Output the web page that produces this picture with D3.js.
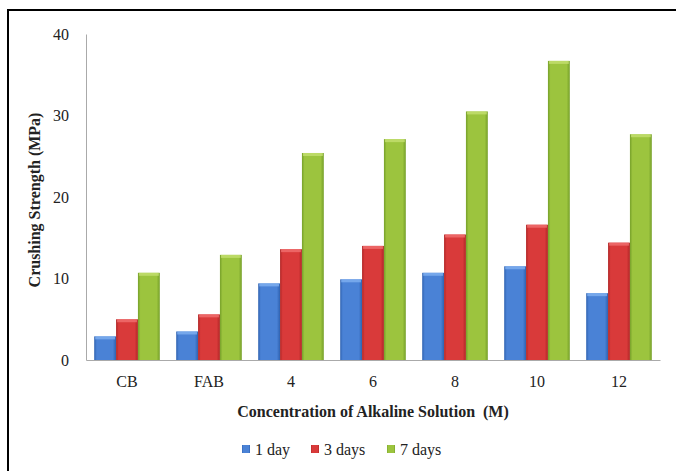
<!DOCTYPE html>
<html><head><meta charset="utf-8">
<script src="https://cdn.jsdelivr.net/npm/d3@7"></script>
<style>body{margin:0;background:#fff}svg{display:block}svg text{font-family:"Liberation Serif","DejaVu Serif",serif !important;fill:#222}</style>
</head><body><svg id="c" width="676" height="471"></svg>
<script>
const categories = ["CB","FAB","4","6","8","10","12"];
const seriesNames = ["1 day","3 days","7 days"];
const day1 = [2.9,3.5,9.4,9.9,10.7,11.5,8.2];
const day3 = [5.0,5.6,13.6,14.0,15.4,16.6,14.4];
const day7 = [10.7,12.9,25.4,27.1,30.5,36.7,27.7];
const yTicks = [0,10,20,30,40];
const colors = ["#4a82d6","#d93a3a","#9cc43e"];
const dark = ["#2f62b0","#b02626","#76a02a"];
const light = ["#7fb0f0","#f07070","#c4e070"];
const FONT = "Liberation Serif, DejaVu Serif, serif";

const svg = d3.select("#c");
const W=676,H=471;
const m={left:86,right:16,top:34,bottom:111};
const x0=d3.scaleBand().domain(categories).range([m.left,W-m.right]).paddingInner(0.2).paddingOuter(0.1);
const x1=d3.scaleBand().domain(seriesNames).range([0,x0.bandwidth()]);
const y=d3.scaleLinear().domain([0,40]).range([H-m.bottom,m.top]);

svg.append("rect").attr("x",8).attr("y",10).attr("width",W+10).attr("height",H+10).attr("fill","none").attr("stroke","#000").attr("stroke-width",2);

const defs=svg.append("defs");
colors.forEach((c,i)=>{
  const g=defs.append("linearGradient").attr("id","g"+i).attr("x1","0").attr("x2","1").attr("y1","0").attr("y2","0");
  g.append("stop").attr("offset","0").attr("stop-color",dark[i]);
  g.append("stop").attr("offset","0.12").attr("stop-color",c);
  g.append("stop").attr("offset","0.85").attr("stop-color",c);
  g.append("stop").attr("offset","1").attr("stop-color",dark[i]);
});

const data=[day1,day3,day7];
const groups=svg.append("g").selectAll("g").data(categories).join("g").attr("transform",d=>`translate(${x0(d)},0)`);
groups.each(function(cat,ci){
  const g=d3.select(this);
  seriesNames.forEach((s,si)=>{
    const v=data[si][ci];
    g.append("rect").attr("x",x1(s)).attr("y",y(v)).attr("width",x1.bandwidth()).attr("height",y(0)-y(v)).attr("fill",`url(#g${si})`);
    g.append("rect").attr("x",x1(s)+1).attr("y",y(v)).attr("width",x1.bandwidth()-2).attr("height",3).attr("fill",light[si]).attr("opacity",0.8);
  });
});

const yAxis=svg.append("g").attr("transform",`translate(${m.left},0)`).call(d3.axisLeft(y).tickValues(yTicks).tickSize(0).tickPadding(17));
yAxis.attr("font-family",FONT);
yAxis.select(".domain").attr("stroke","#aaa");
yAxis.selectAll("text").attr("font-size",16).attr("fill","#222");
const xAxis=svg.append("g").attr("transform",`translate(0,${y(0)})`).call(d3.axisBottom(x0).tickSize(0).tickPadding(16));
xAxis.attr("font-family",FONT);
xAxis.select(".domain").attr("stroke","#aaa");
xAxis.selectAll("text").attr("font-size",16).attr("fill","#222");

svg.append("text").attr("transform","translate(40,200) rotate(-90)").attr("text-anchor","middle").attr("font-weight","bold").attr("font-size",16).attr("font-family",FONT).text("Crushing Strength (MPa)");
svg.append("text").attr("x",373).attr("y",417).attr("text-anchor","middle").attr("font-weight","bold").attr("font-size",16).attr("font-family",FONT).attr("xml:space","preserve").text("Concentration of Alkaline Solution  (M)");

const legX=[242,311,387];
const lg=svg.append("g").selectAll("g").data(seriesNames).join("g").attr("transform",(d,i)=>`translate(${legX[i]},445)`);
lg.append("rect").attr("width",8).attr("height",8).attr("fill",(d,i)=>`url(#g${i})`);
lg.append("text").attr("x",13).attr("y",10).attr("font-size",16).attr("font-family",FONT).text(d=>d);
</script></body></html>
